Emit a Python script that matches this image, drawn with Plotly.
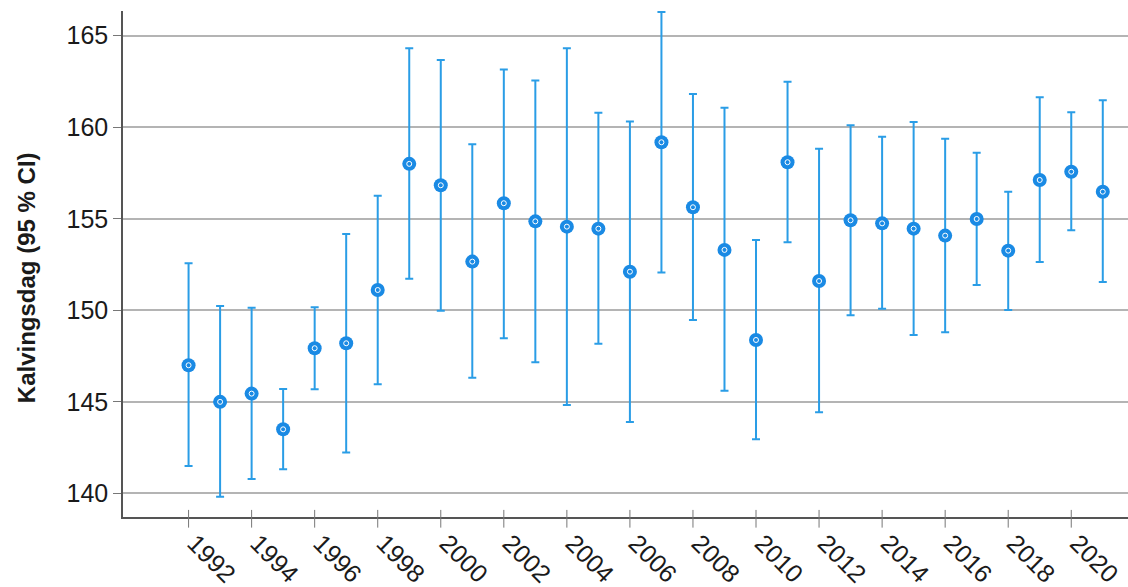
import plotly.graph_objects as go

years = list(range(1992, 2022))
means = [147.0, 145.0, 145.45, 143.5, 147.93, 148.2, 151.11, 158.0, 156.83, 152.66,
         155.85, 154.86, 154.57, 154.46, 152.11, 159.18, 155.63, 153.3, 148.38, 158.09,
         151.6, 154.92, 154.75, 154.46, 154.08, 154.99, 153.26, 157.12, 157.57, 156.48]
upper = [152.57, 150.24, 150.14, 145.7, 150.17, 154.17, 156.26, 164.31, 163.67, 159.07,
         163.16, 162.56, 164.31, 160.79, 160.32, 166.29, 161.82, 161.07, 153.84, 162.48,
         158.83, 160.11, 159.48, 160.29, 159.37, 158.61, 156.48, 161.64, 160.82, 161.47]
lower = [141.5, 139.82, 140.79, 141.32, 145.69, 142.23, 145.96, 151.73, 149.98, 146.32,
         148.47, 147.16, 144.83, 148.18, 143.9, 152.06, 149.47, 145.6, 142.96, 153.72,
         144.43, 149.73, 150.09, 148.65, 148.8, 151.38, 150.02, 152.64, 154.37, 151.55]

y_ticks = [140, 145, 150, 155, 160, 165]
x_ticks = list(range(1992, 2022, 2))
y_title = "Kalvingsdag (95 % CI)"

err_plus = [u - m for u, m in zip(upper, means)]
err_minus = [m - l for m, l in zip(means, lower)]

BAR = "#2A9DE6"
DOT = "#1A8AE4"
FONT = "Liberation Sans, Arial, sans-serif"

fig = go.Figure()
fig.add_trace(go.Scatter(
    x=years, y=means, mode="markers",
    marker=dict(size=14, color=DOT, line=dict(width=0)),
    error_y=dict(type="data", symmetric=False, array=err_plus, arrayminus=err_minus,
                 color=BAR, thickness=2, width=4),
    showlegend=False, hoverinfo="x+y",
))
fig.add_trace(go.Scatter(
    x=years, y=means, mode="markers",
    marker=dict(size=5, symbol="circle-open", color="white", line=dict(width=1, color="white")),
    showlegend=False, hoverinfo="skip",
))

# x tick marks crossing the axis line
tick_shapes = [dict(type="line", xref="x", yref="paper", x0=t, x1=t,
                    y0=-0.021, y1=0.014, line=dict(color="#777777", width=1))
               for t in x_ticks]

fig.update_layout(
    width=1128, height=587,
    margin=dict(l=123, r=0, t=11, b=70, autoexpand=False),
    paper_bgcolor="white", plot_bgcolor="white",
    font=dict(family=FONT, size=24, color="#1a1a1a"),
    xaxis=dict(
        range=[1989.92, 2021.8], tickmode="array", tickvals=x_ticks,
        ticktext=[str(v) for v in x_ticks], tickangle=45, ticklabelshift=6,
        showgrid=False, zeroline=False, automargin=False,
        showline=True, linecolor="#555555", linewidth=1.5,
        ticks="", tickfont=dict(size=25, family=FONT),
    ),
    yaxis=dict(
        range=[138.71, 166.35], tickmode="array", tickvals=y_ticks,
        showgrid=True, gridcolor="#B4B4B4", gridwidth=1.5, zeroline=False, automargin=False,
        showline=True, linecolor="#555555", linewidth=1.5,
        ticks="outside", ticklen=8, tickcolor="#777777", tickwidth=1,
        tickfont=dict(size=25, family=FONT),
    ),
    shapes=tick_shapes,
    annotations=[dict(
        text="<b>" + y_title + "</b>", textangle=-90, showarrow=False,
        xref="paper", yref="paper", x=-0.0965, y=0.472,
        xanchor="center", yanchor="middle",
        font=dict(size=24, family=FONT, color="#1a1a1a"),
    )],
)

fig.write_html("out.html", config={"displayModeBar": False},
               post_script="document.body.style.margin='0';document.body.style.overflow='hidden';")
